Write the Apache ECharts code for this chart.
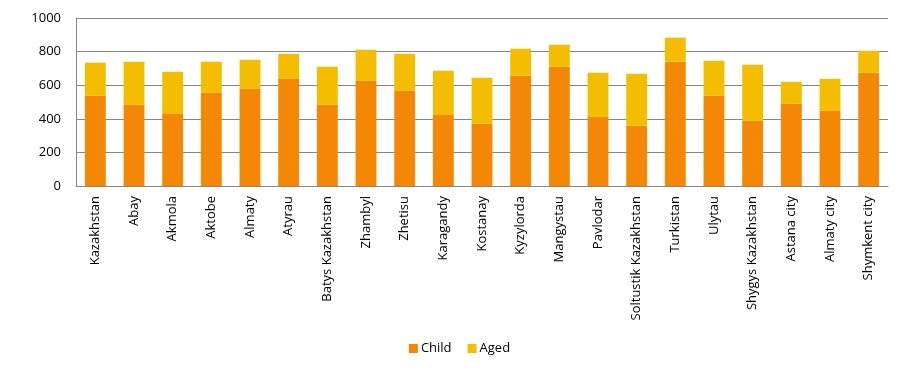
<!DOCTYPE html>
<html>
<head>
<meta charset="utf-8">
<script src="https://cdn.jsdelivr.net/npm/echarts@6/dist/echarts.min.js"></script>
<style>
    html, body { margin: 0; padding: 0; background: #fff; }
    #chart { width: 919px; height: 376px; }
</style>
</head>
<body>
<div id="chart"></div>
<script>
    // regions, left to right as in the picture
    var regions = ['Kazakhstan', 'Abay', 'Akmola', 'Aktobe', 'Almaty', 'Atyrau', 'Batys Kazakhstan',
        'Zhambyl', 'Zhetisu', 'Karagandy', 'Kostanay', 'Kyzylorda', 'Mangystau', 'Pavlodar',
        'Soltustik Kazakhstan', 'Turkistan', 'Ulytau', 'Shygys Kazakhstan', 'Astana city',
        'Almaty city', 'Shymkent city'];
    var child = [537, 483, 429, 555, 578, 638, 483, 626, 567, 423, 370, 656, 710, 411, 358, 740, 537, 388, 489, 447, 674];
    var aged = [197, 257, 251, 185, 173, 149, 227, 185, 220, 263, 274, 161, 131, 263, 310, 143, 209, 334, 131, 191, 131];
    var yTicks = [0, 200, 400, 600, 800, 1000];

    var font = '"Open Sans", "Noto Sans", sans-serif';
    var chart = echarts.init(document.getElementById('chart'));

    var option = {
        animation: false,
        color: ['#F48806', '#F5BD00'],
        grid: { left: 76, right: 31, top: 18, bottom: 190 },
        legend: {
            bottom: 16,
            left: 'center',
            itemWidth: 9,
            itemHeight: 9,
            itemGap: 16,
            icon: 'rect',
            textStyle: { fontFamily: font, fontSize: 13, color: '#000', padding: [0, 0, 0, -2] },
            data: ['Child', 'Aged']
        },
        xAxis: {
            type: 'category',
            data: regions,
            axisLine: { lineStyle: { color: '#868686' } },
            axisTick: { show: false },
            axisLabel: {
                rotate: 90,
                interval: 0,
                margin: 10,
                fontFamily: font,
                fontSize: 13,
                color: '#000'
            }
        },
        yAxis: {
            type: 'value',
            min: yTicks[0],
            max: yTicks[yTicks.length - 1],
            interval: 200,
            axisLine: { show: true, lineStyle: { color: '#868686' } },
            axisTick: { show: false },
            axisLabel: {
                fontFamily: font,
                fontSize: 13,
                color: '#000',
                margin: 15,
                formatter: function (v) { return String(v); }
            },
            splitLine: { lineStyle: { color: '#868686' } }
        },
        series: [
            { name: 'Child', type: 'bar', stack: 'total', barWidth: '54%', data: child },
            { name: 'Aged', type: 'bar', stack: 'total', barWidth: '54%', data: aged }
        ]
    };

    chart.setOption(option);
</script>
</body>
</html>
